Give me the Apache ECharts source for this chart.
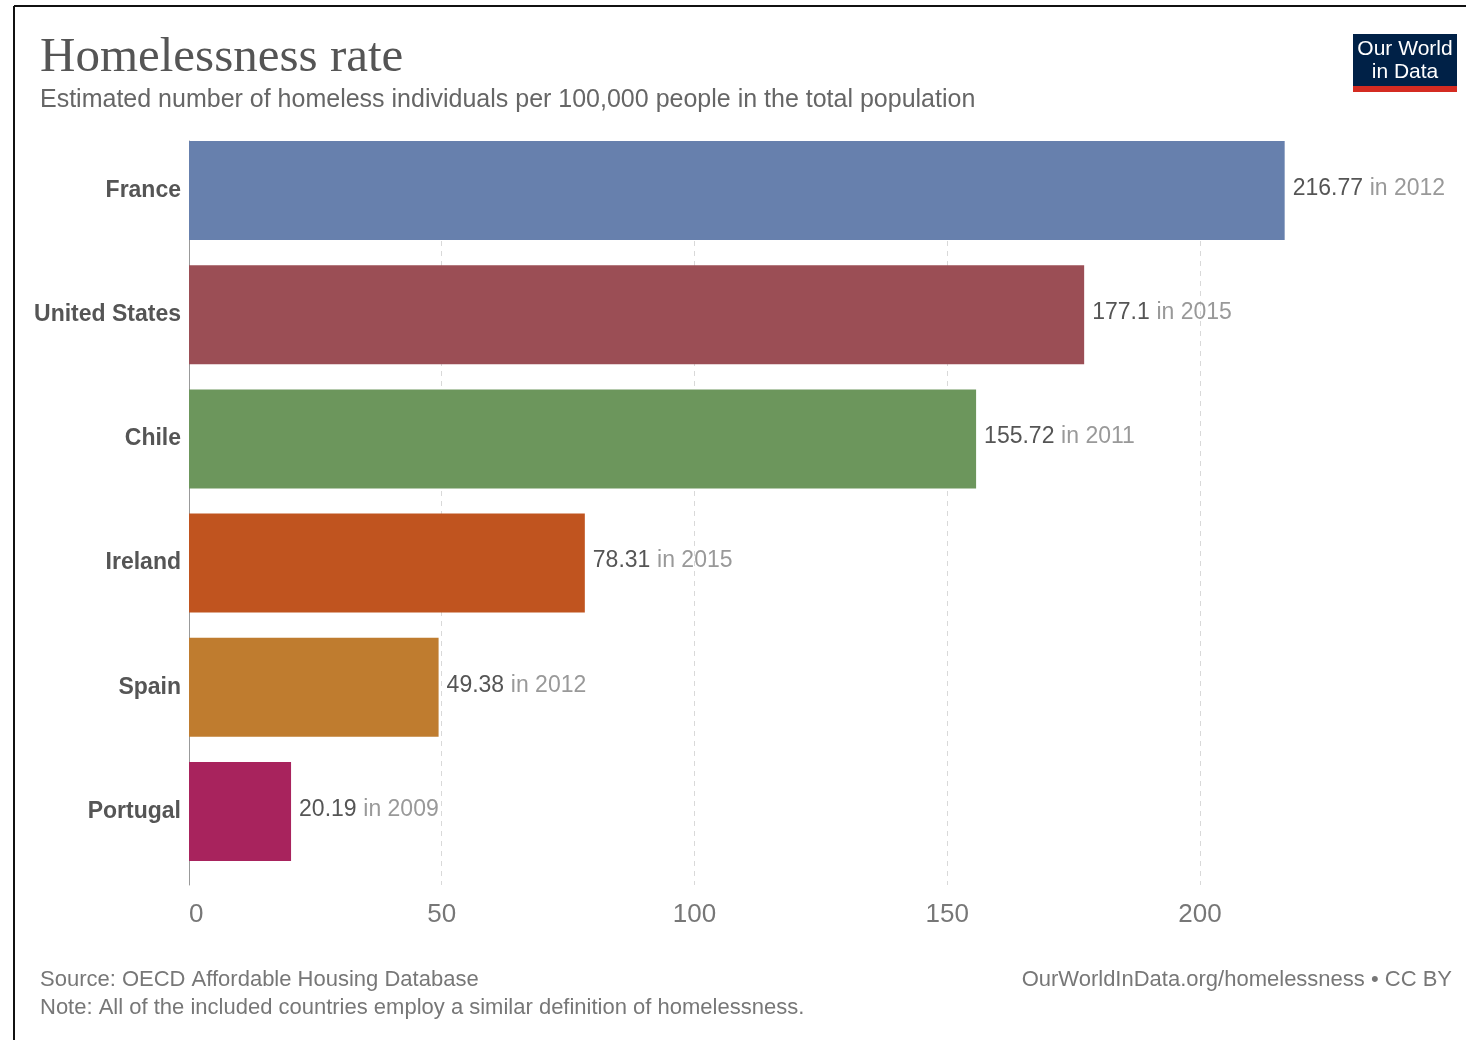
<!DOCTYPE html>
<html>
<head>
<meta charset="utf-8">
<script src="https://cdn.jsdelivr.net/npm/echarts@6/dist/echarts.min.js"></script>
<style>
  html, body { margin: 0; padding: 0; background: #fff; }
  #chart { width: 1466px; height: 1040px; }
</style>
</head>
<body>
<div id="chart"></div>
<script>
// Homelessness rate per 100,000 people, latest year available per country
const countries = ['France', 'United States', 'Chile', 'Ireland', 'Spain', 'Portugal'];
const rates = [216.77, 177.1, 155.72, 78.31, 49.38, 20.19];
const years = [2012, 2015, 2011, 2015, 2012, 2009];
const barColors = ['#6780ad', '#9b4e55', '#6c965c', '#c0541f', '#bf7c2f', '#a8235d'];
const xTicks = [0, 50, 100, 150, 200];

const SANS = '"Liberation Sans", Arial, Helvetica, sans-serif';
const SERIF = '"Liberation Serif", "Times New Roman", serif';

const PLOT_LEFT = 189;
const PLOT_WIDTH = 1112;
const X_MAX = 220;

const chart = echarts.init(document.getElementById('chart'), null, { renderer: 'canvas' });

const option = {
  backgroundColor: '#ffffff',
  animation: false,
  grid: [
    // bars
    { left: PLOT_LEFT, width: PLOT_WIDTH, top: 128.5, height: 745 },
    // axis frame, ticks and dashed guides
    { left: PLOT_LEFT, width: PLOT_WIDTH, top: 141, height: 744 }
  ],
  xAxis: [
    {
      gridIndex: 0, type: 'value', min: 0, max: X_MAX, interval: 50,
      show: false
    },
    {
      gridIndex: 1, type: 'value', min: 0, max: X_MAX, interval: 50,
      axisLine: { show: false },
      axisTick: { show: false },
      axisLabel: {
        show: true, color: '#777', fontFamily: SANS, fontSize: 26, margin: 17,
        alignMinLabel: 'left',
        showMaxLabel: false,
        formatter: v => (xTicks.indexOf(v) >= 0 ? String(v) : '')
      },
      splitLine: {
        show: true, showMinLine: false, showMaxLine: false,
        lineStyle: { color: '#d9d9d9', type: [5, 5], width: 1 }
      }
    }
  ],
  yAxis: [
    {
      gridIndex: 0, type: 'category', data: countries, inverse: true,
      axisLine: { show: false },
      axisTick: { show: false },
      axisLabel: {
        color: '#555', fontFamily: SANS, fontSize: 23, fontWeight: 'bold', margin: 8
      }
    },
    {
      gridIndex: 1, type: 'value', min: 0, max: 1,
      axisLine: { show: true, lineStyle: { color: '#999', width: 1 } },
      axisTick: { show: false },
      axisLabel: { show: false },
      splitLine: { show: false }
    }
  ],
  series: [
    {
      type: 'bar',
      xAxisIndex: 0, yAxisIndex: 0,
      barWidth: 99,
      z: 3,
      data: rates.map((v, i) => ({ value: v, itemStyle: { color: barColors[i] } })),
      label: {
        show: true,
        position: 'right',
        distance: 8,
        offset: [0, -2],
        fontFamily: SANS,
        formatter: p => '{v|' + p.value + '}  {y|in ' + years[p.dataIndex] + '}',
        rich: {
          v: { color: '#555', fontSize: 23, fontFamily: SANS },
          y: { color: '#999', fontSize: 23, fontFamily: SANS }
        }
      }
    }
  ],
  graphic: [
    // frame edges
    { type: 'line', shape: { x1: 14, y1: 6, x2: 1466, y2: 6 }, style: { stroke: '#111', lineWidth: 2 } },
    { type: 'line', shape: { x1: 14, y1: 6, x2: 14, y2: 1040 }, style: { stroke: '#111', lineWidth: 2 } },
    // heading
    {
      type: 'text', left: 40, top: 34,
      style: { text: 'Homelessness rate', fill: '#555', font: '49px ' + SERIF }
    },
    {
      type: 'text', left: 40, top: 88,
      style: {
        text: 'Estimated number of homeless individuals per 100,000 people in the total population',
        fill: '#666', font: '25px ' + SANS
      }
    },
    // logo
    { type: 'rect', shape: { x: 1353, y: 34, width: 104, height: 53 }, style: { fill: '#002147' } },
    { type: 'rect', shape: { x: 1353, y: 86, width: 104, height: 6 }, style: { fill: '#d42b21' } },
    {
      type: 'text', x: 1405, y: 49,
      style: { text: 'Our World', fill: '#fff', font: '21px ' + SANS, align: 'center', verticalAlign: 'middle' }
    },
    {
      type: 'text', x: 1405, y: 72,
      style: { text: 'in Data', fill: '#fff', font: '21px ' + SANS, align: 'center', verticalAlign: 'middle' }
    },
    // footer
    {
      type: 'text', x: 40, y: 980,
      style: { text: 'Source: OECD Affordable Housing Database', fill: '#777', font: '22px ' + SANS, verticalAlign: 'middle' }
    },
    {
      type: 'text', x: 40, y: 1008,
      style: { text: 'Note: All of the included countries employ a similar definition of homelessness.', fill: '#777', font: '22px ' + SANS, verticalAlign: 'middle' }
    },
    {
      type: 'text', x: 1452, y: 980,
      style: { text: 'OurWorldInData.org/homelessness • CC BY', fill: '#777', font: '22px ' + SANS, align: 'right', verticalAlign: 'middle' }
    }
  ]
};

chart.setOption(option);
</script>
</body>
</html>
